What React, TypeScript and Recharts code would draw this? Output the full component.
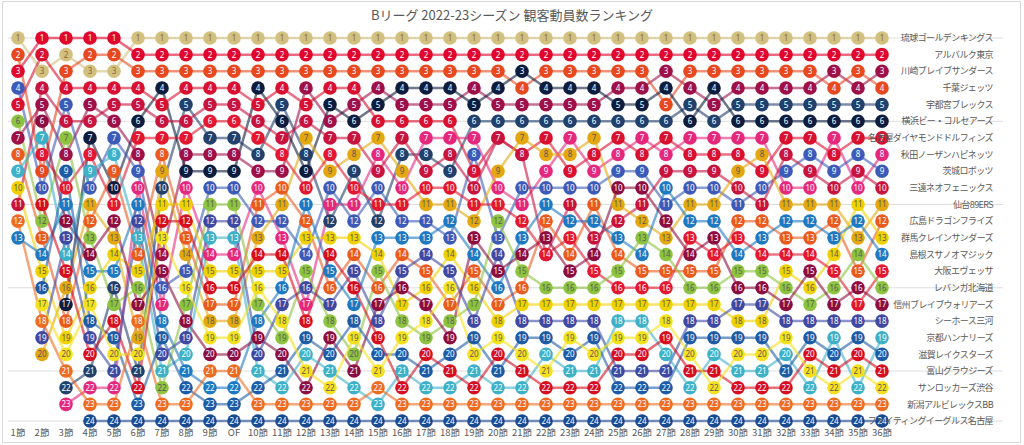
import React from 'react';
import { LineChart, Line, XAxis, YAxis, ReferenceLine } from 'recharts';

const rounds = ['1節','2節','3節','4節','5節','6節','7節','8節','9節','OF','10節','11節','12節','13節','14節','15節','16節','17節','18節','19節','20節','21節','22節','23節','24節','25節','26節','27節','28節','29節','30節','31節','32節','33節','34節','35節','36節'];

const gridRanks = [1, 6, 11, 16, 21, 24];
const rankTicks = [1,2,3,4,5,6,7,8,9,10,11,12,13,14,15,16,17,18,19,20,21,22,23,24];

const N = null;
const RY = [1,3,2,3,3,1,1,1,1,1, 1,1,1,1,1,1,1,1,1,1, 1,1,1,1,1,1,1,1,1,1, 1,1,1,1,1,1,1];
const AT = [3,1,1,1,1,2,2,2,2,2, 2,2,2,2,2,2,2,2,2,2, 2,2,2,2,2,2,2,2,2,2, 2,2,2,2,2,2,2];
const KW = [7,5,8,5,6,8,14,8,8,8, 9,9,4,6,5,4,5,5,5,4, 5,5,5,5,5,4,4,3,4,5, 4,4,4,4,3,4,3];
const CH = [2,9,3,2,2,3,3,3,3,3, 3,3,3,3,3,3,3,3,3,3, 3,4,3,3,3,3,3,5,3,3, 3,3,3,3,4,3,4];
const UT = [N,N,22,21,16,21,10,5,7,7, 8,5,8,12,9,12,8,8,9,6, 6,6,6,6,6,6,6,6,5,6, 5,5,5,5,5,5,5];
const YO = [N,N,17,7,10,6,4,9,9,9, 4,6,9,5,6,5,4,4,4,5, 4,3,4,4,4,5,5,4,6,4, 6,6,6,6,6,6,6];
const ND = [5,2,4,4,4,4,5,4,4,4, 5,4,5,4,4,6,6,6,6,9, 7,8,7,9,8,7,8,7,8,8, 8,9,7,7,8,7,7];
const AK = [N,N,23,22,22,10,17,10,14,14, 10,13,17,11,11,8,10,7,7,7, 10,11,9,7,9,8,7,8,7,7, 7,7,10,10,7,10,8];
const IB = [4,10,5,10,7,9,16,15,10,10, 12,12,14,10,12,10,12,12,13,8, 13,10,10,10,10,9,9,11,10,10, 11,10,9,8,9,8,9];
const SE = [11,4,6,6,5,5,6,6,5,5, 6,7,6,7,7,9,7,9,8,10, 7,8,14,11,13,12,11,9,9,9, 10,11,8,9,10,9,10];
const SN = [N,20,16,11,13,19,9,14,18,18, 13,11,7,9,8,7,9,11,11,12, 9,7,8,8,7,11,12,13,11,11, 9,8,11,11,11,13,11];
const HI = [8,13,18,12,9,14,8,13,17,17, 11,10,12,16,14,16,14,15,17,15, 17,16,12,14,11,14,15,15,15,15, 12,12,13,13,12,15,12];
const GU = [10,15,19,16,14,15,11,11,15,15, 15,15,13,13,13,14,17,16,14,16, 18,17,17,17,17,17,17,17,17,17, 18,18,15,16,14,11,13];
const SH = [13,14,11,15,15,11,18,21,22,22, 18,16,11,15,17,13,13,13,12,14, 16,13,11,12,12,13,14,10,12,12, 14,13,12,12,13,12,14];
const OS = [N,8,10,8,11,7,7,7,6,6, 7,8,10,8,10,11,11,10,10,11, 11,12,14,13,15,16,16,16,13,14, 13,14,14,14,15,17,15];
const LE = [6,12,7,13,17,16,22,17,11,11, 17,19,15,18,20,15,18,19,18,17, 12,15,16,16,16,15,13,14,16,16, 15,15,16,17,16,14,16];
const SI = [N,6,12,14,12,17,15,18,20,20, 19,20,22,19,21,17,16,17,19,13, 15,14,13,15,14,10,10,12,14,13, 16,16,17,15,17,16,17];
const MI = [N,19,13,19,21,12,20,19,12,12, 20,17,16,17,15,18,15,14,15,18, 14,18,18,18,18,21,21,21,18,18, 17,17,18,18,18,18,18];
const KY = [9,7,14,9,8,13,21,20,13,13, 21,22,20,21,22,23,21,22,22,21, 22,22,20,21,21,18,18,20,22,20, 21,21,20,22,19,22,19];
const SG = [N,16,9,18,19,23,19,22,23,23, 22,21,19,20,18,20,20,21,20,19, 21,19,19,20,19,22,22,22,19,19, 19,19,21,19,20,19,20];
const TO = [N,11,15,20,18,22,12,12,16,16, 14,14,18,14,16,19,22,20,21,22, 20,21,22,22,22,20,20,19,21,21, 22,22,22,20,21,20,21];
const SR = [N,17,20,17,20,20,13,16,19,19, 16,18,21,22,19,21,19,18,16,20, 19,20,21,19,20,19,19,18,20,22, 20,20,19,21,22,21,22];
const NI = [12,18,21,23,23,18,23,23,21,21, 23,23,23,23,23,22,23,23,23,23, 23,23,23,23,23,23,23,23,23,23, 23,23,23,23,23,23,23];
const FE = [N,N,N,24,24,24,24,24,24,24, 24,24,24,24,24,24,24,24,24,24, 24,24,24,24,24,24,24,24,24,24, 24,24,24,24,24,24,24];

const DARK = '#5a5a5a';
const teams = [
  { key: 'RY', name: '琉球ゴールデンキングス', color: '#D4C07E', text: '#7a6a3c', ranks: RY },
  { key: 'AT', name: 'アルバルク東京', color: '#E1062C', text: '#fff', ranks: AT },
  { key: 'KW', name: '川崎ブレイブサンダース', color: '#9E1046', text: '#fff', ranks: KW },
  { key: 'CH', name: '千葉ジェッツ', color: '#E8481E', text: '#fff', ranks: CH },
  { key: 'UT', name: '宇都宮ブレックス', color: '#22406C', text: '#fff', ranks: UT },
  { key: 'YO', name: '横浜ビー・コルセアーズ', color: '#0E1C3E', text: '#fff', ranks: YO },
  { key: 'ND', name: '名古屋ダイヤモンドドルフィンズ', color: '#D9102E', text: '#fff', ranks: ND },
  { key: 'AK', name: '秋田ノーザンハピネッツ', color: '#E6287D', text: '#fff', ranks: AK },
  { key: 'IB', name: '茨城ロボッツ', color: '#3C5BB8', text: '#fff', ranks: IB },
  { key: 'SE', name: '三遠ネオフェニックス', color: '#C8133D', text: '#fff', ranks: SE },
  { key: 'SN', name: '仙台89ERS', color: '#E4A70F', text: DARK, ranks: SN },
  { key: 'HI', name: '広島ドラゴンフライズ', color: '#EA5A1F', text: '#fff', ranks: HI },
  { key: 'GU', name: '群馬クレインサンダーズ', color: '#F1D000', text: DARK, ranks: GU },
  { key: 'SH', name: '島根スサノオマジック', color: '#1D79C1', text: '#fff', ranks: SH },
  { key: 'OS', name: '大阪エヴェッサ', color: '#E3172F', text: '#fff', ranks: OS },
  { key: 'LE', name: 'レバンガ北海道', color: '#8DC33F', text: DARK, ranks: LE },
  { key: 'SI', name: '信州ブレイブウォリアーズ', color: '#8C0E40', text: '#fff', ranks: SI },
  { key: 'MI', name: 'シーホース三河', color: '#3E49A4', text: '#fff', ranks: MI },
  { key: 'KY', name: '京都ハンナリーズ', color: '#3EB0C8', text: '#fff', ranks: KY },
  { key: 'SG', name: '滋賀レイクスターズ', color: '#1E5BA6', text: '#fff', ranks: SG },
  { key: 'TO', name: '富山グラウジーズ', color: '#D60E1E', text: '#fff', ranks: TO },
  { key: 'SR', name: 'サンロッカーズ渋谷', color: '#F5E11B', text: DARK, ranks: SR },
  { key: 'NI', name: '新潟アルビレックスBB', color: '#EE6C1F', text: '#fff', ranks: NI },
  { key: 'FE', name: 'ファイティングイーグルス名古屋', color: '#1B4A8F', text: '#fff', ranks: FE },
];

const data = rounds.map((r, i) => {
  const row: Record<string, any> = { idx: i, round: r };
  teams.forEach((t) => { row[t.key] = t.ranks[i]; });
  return row;
});

const makeDot = (color: string, textColor: string) => (props: any) => {
  const { cx, cy, value, index } = props;
  if (value == null || cx == null || cy == null) return <g key={index} />;
  return (
    <g key={index}>
      <circle cx={cx} cy={cy} r={6.8} fill={color} />
      <text x={cx} y={cy} dy={2.9} textAnchor="middle" fontSize={8} fill={textColor}
        fontFamily="'Noto Sans', sans-serif">{value}</text>
    </g>
  );
};

export default function App() {
  return (
    <div style={{ position: 'absolute', left: 0, top: 0, width: 1024, height: 445, background: '#fff' }}>
      <div style={{ position: 'absolute', left: 2, top: 1, width: 1019, height: 442, border: '1px solid #d9d9d9', boxSizing: 'border-box' }} />
      <div style={{ position: 'absolute', left: 0, top: 6, width: 1024, textAlign: 'center', fontSize: 13, lineHeight: '18px', color: '#595959', fontFamily: "'Noto Sans CJK JP', sans-serif" }}>
        Bリーグ 2022-23シーズン 観客動員数ランキング
      </div>
      <div style={{ position: 'absolute', left: 0, top: 0 }}>
        <LineChart width={1024} height={445} data={data} margin={{ top: 38, right: 21, bottom: 0, left: 8 }}>
          {gridRanks.map((g) => (
            <ReferenceLine key={'g' + g} y={g} stroke="#dedede" strokeWidth={1} />
          ))}
          <XAxis dataKey="idx" type="number" domain={[0, 36]} ticks={rounds.map((_, i) => i)}
            tickFormatter={(i: number) => rounds[i]} interval={0} padding={{ left: 10, right: 121 }}
            axisLine={false} tickLine={false} tickSize={0} tickMargin={8} height={24}
            tick={{ fontSize: 9.5, fill: '#595959', fontFamily: "'Noto Sans CJK JP', sans-serif" }} />
          <YAxis type="number" orientation="right" mirror reversed domain={[1, 24]} ticks={rankTicks}
            interval={0} tickFormatter={(v: number) => teams[v - 1] ? teams[v - 1].name : ''}
            axisLine={false} tickLine={false} tickSize={0} tickMargin={10}
            tick={{ fontSize: 9, fill: '#595959', fontFamily: "'Noto Sans CJK JP', sans-serif", letterSpacing: -0.6 }} />
          {teams.map((t) => (
            <Line key={t.key + '-l'} dataKey={t.key} stroke={t.color} strokeOpacity={0.6} strokeWidth={2.5}
              dot={false} activeDot={false} isAnimationActive={false} legendType="none" />
          ))}
          {teams.map((t) => (
            <Line key={t.key + '-d'} dataKey={t.key} stroke="none" strokeWidth={0}
              dot={makeDot(t.color, t.text)} activeDot={false} isAnimationActive={false} legendType="none" />
          ))}
        </LineChart>
      </div>
    </div>
  );
}
